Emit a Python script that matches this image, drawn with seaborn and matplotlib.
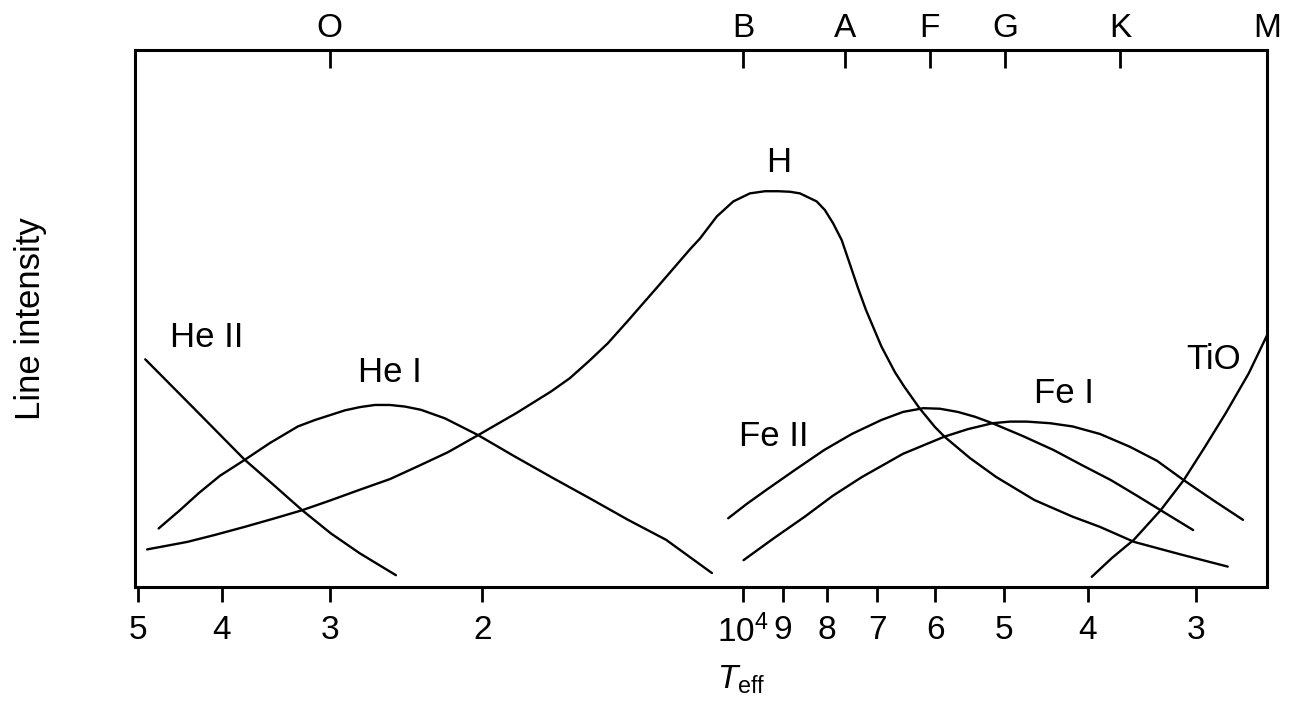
import matplotlib
matplotlib.use("Agg")
import matplotlib.pyplot as plt
import seaborn as sns
import pandas as pd
from matplotlib.ticker import NullLocator, FixedLocator, FixedFormatter

# Effective temperature (K) and relative line intensity for each species
he2_T = [48990, 42940, 37610, 34710, 32280, 29920, 27710, 25160]
he2_I = [4.24, 3.31, 2.37, 1.88, 1.43, 1.00, 0.63, 0.22]

he1_T = [47280, 44680, 42480, 40180, 37590, 35180, 32650, 31200, 29980, 28810,
         27690, 26600, 25560, 24560, 23540, 22080, 20230, 18340, 16660, 15020,
         13570, 12270, 10860]
he1_I = [1.09, 1.43, 1.75, 2.07, 2.37, 2.68, 2.99, 3.11, 3.20, 3.29,
         3.35, 3.39, 3.39, 3.36, 3.30, 3.14, 2.83, 2.43, 2.05, 1.65,
         1.25, 0.88, 0.26]

h_T = [48750, 43810, 40710, 37610, 34710, 32280, 29980, 27710, 25560, 23790,
       21910, 20210, 18260, 16660, 15840, 15050, 14320, 13590, 12470, 11510,
       11210, 10720, 10260, 9816, 9432, 9104, 8825, 8595, 8220, 8043,
       7867, 7691, 7510, 7366, 7211, 6921, 6676, 6512, 6254, 6003,
       5853, 5468, 5102, 4608, 4163, 3871, 3535, 3129, 2756]
h_I = [0.70, 0.84, 0.97, 1.12, 1.28, 1.43, 1.61, 1.81, 2.01, 2.24,
       2.51, 2.83, 3.24, 3.64, 3.89, 4.21, 4.54, 4.95, 5.64, 6.29,
       6.49, 6.90, 7.18, 7.33, 7.37, 7.37, 7.36, 7.33, 7.18, 7.02,
       6.77, 6.46, 5.97, 5.57, 5.16, 4.48, 4.00, 3.73, 3.33, 2.98,
       2.80, 2.40, 2.05, 1.62, 1.31, 1.12, 0.84, 0.61, 0.38]

fe2_T = [10400, 9894, 9394, 8709, 8060, 7486, 6921, 6535, 6190, 5924,
         5647, 5396, 5152, 4750, 4378, 4061, 3759, 3516, 3294, 3021]
fe2_I = [1.28, 1.55, 1.81, 2.18, 2.55, 2.85, 3.11, 3.26, 3.33, 3.32,
         3.26, 3.17, 3.05, 2.81, 2.55, 2.27, 1.99, 1.71, 1.43, 1.06]

fe1_T = [9984, 9209, 8484, 7873, 7285, 6535, 5853, 5498, 5152, 4916,
         4702, 4419, 4163, 3871, 3573, 3326, 3098, 2867, 2646]
fe1_I = [0.50, 0.91, 1.31, 1.70, 2.05, 2.48, 2.80, 2.94, 3.05, 3.08,
         3.08, 3.05, 2.99, 2.85, 2.61, 2.35, 1.99, 1.62, 1.25]

tio_T = [3956, 3750, 3537, 3294, 3098, 2928, 2770, 2606, 2477]
tio_I = [0.19, 0.54, 0.88, 1.43, 1.99, 2.61, 3.24, 3.98, 4.72]

# Curve labels: text, temperature, intensity
species = ["He II", "He I", "H", "Fe II", "Fe I", "TiO"]
label_T = [41590, 25560, 9104, 9209, 4259, 2858]
label_I = [4.64, 4.00, 7.91, 2.81, 3.61, 4.23]

# Temperature axis ticks
bottom_ticks = [50000, 40000, 30000, 20000, 10000, 9000, 8000, 7000, 6000, 5000, 4000, 3000]
bottom_labels = ["5", "4", "3", "2", r"$10^4$", "9", "8", "7", "6", "5", "4", "3"]

# Spectral classes along the top
class_ticks = [30000, 10000, 7625, 6084, 4983, 3670, 2483]
class_labels = ["O", "B", "A", "F", "G", "K", "M"]

sns.set_style("white")
plt.rcParams["font.family"] = ["Liberation Sans", "DejaVu Sans"]
plt.rcParams["mathtext.fontset"] = "custom"
plt.rcParams["mathtext.rm"] = "Liberation Sans"
plt.rcParams["mathtext.it"] = "Liberation Sans:italic"
plt.rcParams["text.color"] = "black"
plt.rcParams["axes.labelcolor"] = "black"
plt.rcParams["xtick.color"] = "black"

fig = plt.figure(figsize=(12.89, 7.02), dpi=100)
ax = fig.add_axes([0.1047, 0.1638, 0.8782, 0.765])
ax.set_xscale("log")
ax.set_xlim(50350, 2483)
ax.set_ylim(0, 10)

series = [(he2_T, he2_I), (he1_T, he1_I), (h_T, h_I),
          (fe2_T, fe2_I), (fe1_T, fe1_I), (tio_T, tio_I)]
for T, I in series:
    df = pd.DataFrame({"T": T, "I": I})
    sns.lineplot(data=df, x="T", y="I", ax=ax, color="black", lw=1.7,
                 sort=False, estimator=None)

for name, t, i in zip(species, label_T, label_I):
    ax.text(t, i, name, ha="center", va="center", fontsize=25, color="black")

for s in ax.spines.values():
    s.set_linewidth(2.2)
    s.set_color("black")

ax.xaxis.set_minor_locator(NullLocator())
ax.xaxis.set_major_locator(FixedLocator(bottom_ticks))
ax.xaxis.set_major_formatter(FixedFormatter(bottom_labels))
ax.tick_params(axis="x", direction="out", length=11, width=2, labelsize=24,
               pad=9, colors="black", bottom=True)
ax.set_yticks([])

ax.set_xlabel(r"$T_{\rm eff}$", fontsize=24)
ax.xaxis.set_label_coords(0.536, -0.143)
ax.set_ylabel("Line intensity", fontsize=25)
ax.yaxis.set_label_coords(-0.078, 0.5)

top = ax.twiny()
top.set_xscale("log")
top.set_xlim(ax.get_xlim())
top.xaxis.set_minor_locator(NullLocator())
top.xaxis.set_major_locator(FixedLocator(class_ticks))
top.xaxis.set_major_formatter(FixedFormatter(class_labels))
top.tick_params(axis="x", direction="in", length=13, width=2, labelsize=24,
                pad=4, colors="black")
for s in top.spines.values():
    s.set_visible(False)

fig.savefig("out.png", dpi=100, facecolor="white")
